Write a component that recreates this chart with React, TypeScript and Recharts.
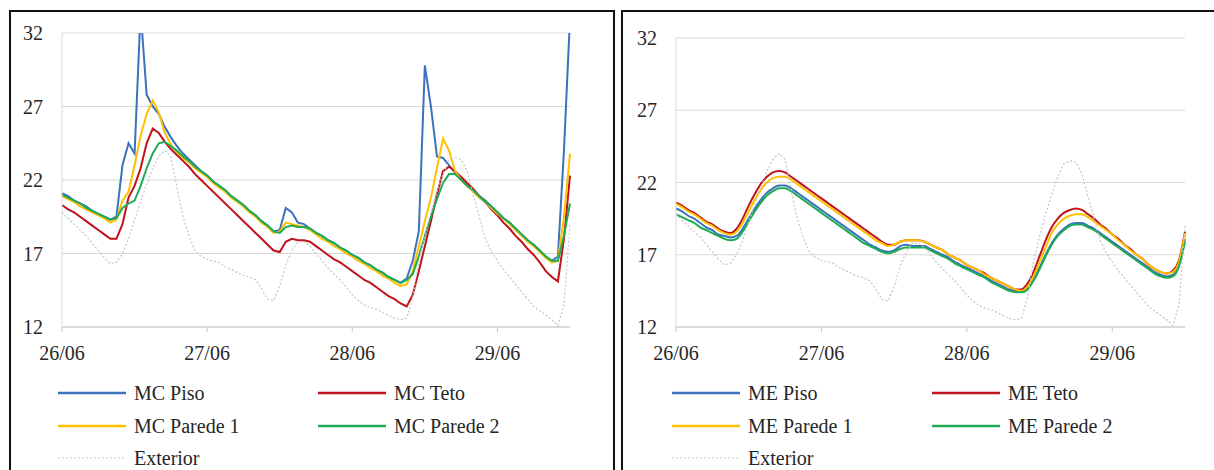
import { LineChart, Line, XAxis, YAxis, CartesianGrid } from "recharts";

// hours since 26/06 00:00
const hours = Array.from({ length: 85 }, (_, i) => i);
const dayTicks = [0, 24, 48, 72];
const dayLabels = ["26/06", "27/06", "28/06", "29/06"];
const tempTicks = [12, 17, 22, 27, 32];

const mcPiso = [
  21.1, 20.9, 20.6, 20.4, 20.2, 19.9, 19.7, 19.5, 19.3, 19.5,
  23.0, 24.5, 23.8, 33.5, 27.8, 27.0, 26.5, 25.6, 24.9, 24.3,
  23.8, 23.4, 23.0, 22.6, 22.3, 21.9, 21.6, 21.3, 20.9, 20.6,
  20.3, 19.9, 19.6, 19.2, 18.9, 18.5, 18.6, 20.1, 19.8, 19.1,
  19.0, 18.7, 18.4, 18.2, 17.9, 17.7, 17.4, 17.2, 16.9, 16.7,
  16.4, 16.2, 15.9, 15.7, 15.4, 15.2, 15.0, 15.3, 16.5, 18.5,
  29.8, 27.0, 23.6, 23.5, 23.0, 22.5, 22.1, 21.7, 21.3, 20.9,
  20.6, 20.2, 19.8, 19.4, 19.1, 18.7, 18.3, 17.9, 17.6, 17.2,
  16.8, 16.5, 16.8, 24.0, 33.0,
];
const mcTeto = [
  20.3, 20.0, 19.8, 19.5, 19.2, 18.9, 18.6, 18.3, 18.0, 18.0,
  19.0, 20.8, 21.6, 22.8, 24.5, 25.5, 25.2, 24.6, 24.1, 23.7,
  23.3, 22.9, 22.4, 22.0, 21.6, 21.2, 20.8, 20.4, 20.0, 19.6,
  19.2, 18.8, 18.4, 18.0, 17.6, 17.2, 17.1, 17.8, 18.0, 17.9,
  17.9, 17.8, 17.5, 17.2, 16.9, 16.6, 16.4, 16.1, 15.8, 15.5,
  15.2, 15.0, 14.7, 14.4, 14.1, 13.9, 13.6, 13.4, 14.2, 15.8,
  17.5, 19.2, 21.0, 22.6, 22.9, 22.6, 22.2, 21.8, 21.4, 20.9,
  20.5, 20.0, 19.6, 19.1, 18.7, 18.2, 17.8, 17.3, 16.9, 16.4,
  15.8, 15.4, 15.1, 18.0, 22.3,
];
const mcParede1 = [
  20.9, 20.7, 20.5, 20.2, 20.0, 19.8, 19.6, 19.4, 19.1, 19.3,
  20.6, 21.2, 23.0, 25.0, 26.5, 27.4, 26.6, 25.2, 24.4, 23.9,
  23.5, 23.2, 22.8, 22.5, 22.2, 21.8, 21.5, 21.2, 20.8, 20.5,
  20.2, 19.8, 19.5, 19.1, 18.8, 18.4, 18.5, 19.1, 19.0, 18.9,
  18.8, 18.6, 18.3, 18.0, 17.8, 17.5, 17.3, 17.0, 16.8, 16.5,
  16.3, 16.0, 15.8, 15.5, 15.3, 15.0, 14.8, 14.9, 15.8, 17.5,
  19.2, 20.8, 22.8, 24.8, 24.0, 22.6, 22.0, 21.6, 21.2, 20.8,
  20.5, 20.1, 19.7, 19.4, 19.0, 18.6, 18.2, 17.8, 17.5, 17.1,
  16.7, 16.4, 16.5, 19.5, 23.8,
];
const mcParede2 = [
  21.0, 20.8, 20.6, 20.4, 20.1, 19.9, 19.7, 19.5, 19.3, 19.4,
  20.1, 20.4, 20.6, 21.6, 22.8, 23.8, 24.5, 24.6, 24.3, 24.0,
  23.6, 23.3, 22.9, 22.6, 22.3, 21.9, 21.6, 21.3, 20.9, 20.6,
  20.3, 19.9, 19.6, 19.2, 18.9, 18.5, 18.4, 18.8, 18.9, 18.8,
  18.8, 18.7, 18.4, 18.2, 17.9, 17.7, 17.4, 17.2, 16.9, 16.7,
  16.4, 16.2, 15.9, 15.7, 15.4, 15.2, 15.0, 15.2, 15.6, 16.8,
  18.2, 19.5, 20.7, 21.8, 22.4, 22.4, 22.0, 21.6, 21.3, 20.9,
  20.5, 20.2, 19.8, 19.4, 19.1, 18.7, 18.3, 17.9, 17.6, 17.2,
  16.8, 16.5, 16.5, 18.2, 20.4,
];

const mePiso = [
  20.2, 20.0, 19.7, 19.5, 19.2, 18.9, 18.7, 18.4, 18.3, 18.2,
  18.3, 18.8, 19.5, 20.2, 20.8, 21.3, 21.6, 21.8, 21.8, 21.6,
  21.3, 21.0, 20.7, 20.4, 20.1, 19.8, 19.5, 19.2, 18.9, 18.6,
  18.3, 18.0, 17.7, 17.5, 17.3, 17.2, 17.3, 17.6, 17.7, 17.6,
  17.6, 17.6, 17.4, 17.2, 17.0, 16.8, 16.5, 16.3, 16.1, 15.9,
  15.7, 15.5, 15.2, 15.0, 14.8, 14.6, 14.5, 14.5, 14.7, 15.3,
  16.1, 17.0, 17.8, 18.4, 18.8, 19.1, 19.2, 19.2, 19.0, 18.8,
  18.5, 18.2, 17.9, 17.6, 17.3, 17.0, 16.7, 16.4, 16.1, 15.8,
  15.6, 15.5, 15.6, 16.3, 18.1,
];
const meTeto = [
  20.6, 20.4, 20.1, 19.9, 19.6, 19.3, 19.1, 18.8, 18.6, 18.5,
  18.8, 19.5, 20.4, 21.2, 21.9, 22.4, 22.7, 22.8, 22.7, 22.4,
  22.1, 21.8, 21.5, 21.2, 20.9, 20.6, 20.3, 20.0, 19.7, 19.4,
  19.1, 18.8, 18.5, 18.2, 17.9, 17.7, 17.7, 17.9, 18.0, 18.0,
  18.0, 17.9, 17.7, 17.5, 17.3, 17.0, 16.8, 16.6, 16.3, 16.1,
  15.9, 15.7, 15.4, 15.2, 15.0, 14.8, 14.6, 14.6, 15.0, 15.8,
  16.9, 18.0, 18.9, 19.5, 19.9, 20.1, 20.2, 20.1, 19.8, 19.5,
  19.1, 18.8, 18.4, 18.1, 17.7, 17.4, 17.0, 16.7, 16.3, 16.0,
  15.8, 15.7, 15.9, 16.6, 18.6,
];
const meParede1 = [
  20.5, 20.3, 20.0, 19.8, 19.5, 19.2, 19.0, 18.7, 18.5, 18.4,
  18.6, 19.2, 20.0, 20.8, 21.5, 22.0, 22.3, 22.4, 22.4, 22.2,
  21.9, 21.6, 21.3, 21.0, 20.7, 20.4, 20.1, 19.8, 19.5, 19.2,
  18.9, 18.6, 18.3, 18.0, 17.8, 17.6, 17.7, 17.9, 18.0, 18.0,
  18.0, 17.9, 17.7, 17.5, 17.3, 17.0, 16.8, 16.6, 16.3, 16.1,
  15.9, 15.6, 15.4, 15.2, 15.0, 14.8, 14.6, 14.5, 14.8, 15.5,
  16.5, 17.5, 18.5, 19.1, 19.5, 19.7, 19.8, 19.8, 19.6, 19.3,
  19.0, 18.7, 18.4, 18.0, 17.7, 17.3, 17.0, 16.7, 16.3, 16.0,
  15.8, 15.7, 15.8, 16.5, 18.5,
];
const meParede2 = [
  19.8, 19.6, 19.4, 19.2, 18.9, 18.7, 18.5, 18.3, 18.1, 18.0,
  18.1, 18.6, 19.3, 20.0, 20.6, 21.1, 21.4, 21.6, 21.6, 21.4,
  21.1, 20.8, 20.5, 20.2, 19.9, 19.6, 19.3, 19.0, 18.7, 18.4,
  18.1, 17.8, 17.6, 17.4, 17.2, 17.1, 17.2, 17.4, 17.5, 17.5,
  17.5, 17.5, 17.3, 17.1, 16.9, 16.7, 16.4, 16.2, 16.0, 15.8,
  15.6, 15.4, 15.1, 14.9, 14.7, 14.5, 14.4, 14.4, 14.6, 15.2,
  16.0, 16.9, 17.7, 18.3, 18.7, 19.0, 19.1, 19.1, 18.9, 18.7,
  18.4, 18.1, 17.8, 17.5, 17.2, 16.9, 16.6, 16.3, 16.0, 15.7,
  15.5, 15.4, 15.5, 16.2, 17.9,
];

const exterior = [
  19.8, 19.4, 19.0, 18.6, 18.2, 17.7, 17.2, 16.7, 16.3, 16.4,
  17.0, 18.0, 19.3, 20.5, 21.7, 22.8, 23.6, 24.0, 23.6, 21.5,
  19.5, 18.2, 17.2, 16.8, 16.6, 16.5, 16.4, 16.1, 15.9, 15.7,
  15.5, 15.4, 15.2, 14.6, 13.9, 13.8, 14.8, 16.2, 17.2, 17.8,
  17.8, 17.5, 17.0, 16.5, 16.0, 15.6, 15.2, 14.7, 14.2, 13.8,
  13.5, 13.3, 13.2, 13.0, 12.8, 12.6, 12.5, 12.6, 14.0, 16.5,
  18.3, 19.8, 21.2, 22.4, 23.3, 23.5, 23.4, 22.6, 21.0, 19.5,
  18.0, 17.1, 16.5, 15.9, 15.4, 14.9, 14.4, 13.9, 13.4, 13.1,
  12.8, 12.5, 12.1, 13.5, 19.0,
];

const BLUE = "#3a72bb";
const RED = "#c0121a";
const YELLOW = "#ffc000";
const GREEN = "#1faa55";
const GRAY = "#c4c4c4";
const FONT = '"Liberation Serif", "DejaVu Serif", "Times New Roman", Times, serif';

const mcData = hours.map((h, i) => ({
  h,
  piso: mcPiso[i],
  teto: mcTeto[i],
  p1: mcParede1[i],
  p2: mcParede2[i],
  ext: exterior[i],
}));
const meData = hours.map((h, i) => ({
  h,
  piso: mePiso[i],
  teto: meTeto[i],
  p1: meParede1[i],
  p2: meParede2[i],
  ext: exterior[i],
}));

const tickStyle = { fontFamily: FONT, fontSize: 20, fill: "#262626" };

function Panel({
  data,
  prefix,
  width,
  margin,
  smooth,
}: {
  data: any[];
  prefix: string;
  width: number;
  margin: { top: number; right: number; left: number; bottom: number };
  smooth: boolean;
}) {
  const type = smooth ? "monotone" : "linear";
  return (
    <LineChart width={width} height={470} data={data} margin={margin} style={{ fontFamily: FONT }}>
      <CartesianGrid vertical={false} stroke="#d9d9d9" />
      <XAxis
        dataKey="h"
        type="number"
        domain={[0, 84]}
        ticks={dayTicks}
        tickFormatter={(v: number) => dayLabels[dayTicks.indexOf(v)]}
        tick={tickStyle}
        stroke="#c8c8c8"
        tickSize={5}
        tickMargin={14}
        height={30}
      />
      <YAxis
        domain={[12, 32]}
        ticks={tempTicks}
        allowDataOverflow
        tick={tickStyle}
        stroke="#d9d9d9"
        tickLine={false}
        tickSize={0}
        tickMargin={19}
        width={40}
      />
      <Line type={type} dataKey="piso" name={`${prefix} Piso`} stroke={BLUE} strokeWidth={2} dot={false} isAnimationActive={false} />
      <Line type={type} dataKey="teto" name={`${prefix} Teto`} stroke={RED} strokeWidth={2} dot={false} isAnimationActive={false} />
      <Line type={type} dataKey="p1" name={`${prefix} Parede 1`} stroke={YELLOW} strokeWidth={2} dot={false} isAnimationActive={false} />
      <Line type={type} dataKey="p2" name={`${prefix} Parede 2`} stroke={GREEN} strokeWidth={2} dot={false} isAnimationActive={false} />
      <Line type="linear" dataKey="ext" name="Exterior" stroke={GRAY} strokeWidth={1.2} strokeDasharray="2 2" dot={false} isAnimationActive={false} />
    </LineChart>
  );
}

function LegendItem({ x, y, color, label, dashed }: { x: number; y: number; color: string; label: string; dashed?: boolean }) {
  return (
    <div style={{ position: "absolute", left: x, top: y - 12, height: 24, display: "flex", alignItems: "center" }}>
      <svg width={70} height={6} style={{ marginRight: 6 }}>
        <line x1={0} y1={3} x2={68} y2={3} stroke={color} strokeWidth={dashed ? 1.2 : 2.5} strokeDasharray={dashed ? "2 2" : undefined} />
      </svg>
      <span style={{ fontFamily: FONT, fontSize: 20, color: "#262626", whiteSpace: "nowrap" }}>{label}</span>
    </div>
  );
}

function PanelLegend({ prefix, x1, x2 }: { prefix: string; x1: number; x2: number }) {
  return (
    <>
      <LegendItem x={x1} y={393} color={BLUE} label={`${prefix} Piso`} />
      <LegendItem x={x2} y={393} color={RED} label={`${prefix} Teto`} />
      <LegendItem x={x1} y={426} color={YELLOW} label={`${prefix} Parede 1`} />
      <LegendItem x={x2} y={426} color={GREEN} label={`${prefix} Parede 2`} />
      <LegendItem x={x1} y={458} color={GRAY} label="Exterior" dashed />
    </>
  );
}

export default function App() {
  return (
    <div style={{ position: "absolute", left: 0, top: 0, width: 1214, height: 470, overflow: "hidden", background: "#fff", fontFamily: FONT }}>
      <div style={{ position: "absolute", left: 9, top: 10, width: 606, height: 480, border: "2px solid #111", boxSizing: "border-box" }} />
      <div style={{ position: "absolute", left: 621, top: 10, width: 600, height: 480, border: "2px solid #111", boxSizing: "border-box" }} />
      <div style={{ position: "absolute", left: 0, top: 0 }}>
        <Panel data={mcData} prefix="MC" width={610} margin={{ top: 33, right: 40, left: 22, bottom: 113 }} smooth={false} />
      </div>
      <div style={{ position: "absolute", left: 614, top: 0 }}>
        <Panel data={meData} prefix="ME" width={600} margin={{ top: 38, right: 29, left: 22, bottom: 113 }} smooth />
      </div>
      <PanelLegend prefix="MC" x1={58} x2={318} />
      <PanelLegend prefix="ME" x1={672} x2={932} />
    </div>
  );
}
